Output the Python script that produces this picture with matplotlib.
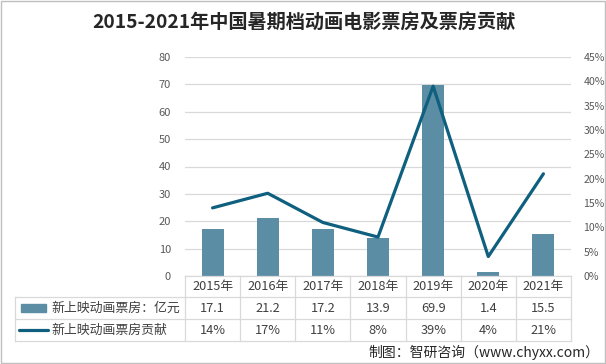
import matplotlib
matplotlib.use("Agg")
import matplotlib.pyplot as plt
import matplotlib.transforms as mtransforms
from matplotlib.patches import Rectangle
from matplotlib.lines import Line2D

plt.rcParams['font.family'] = ['Noto Sans CJK SC', 'DejaVu Sans']

years = ['2015年', '2016年', '2017年', '2018年', '2019年', '2020年', '2021年']
box_office = [17.1, 21.2, 17.2, 13.9, 69.9, 1.4, 15.5]
share = [14, 17, 11, 8, 39, 4, 21]
bar_label = '新上映动画票房：亿元'
line_label = '新上映动画票房贡献'

W, H = 606, 364
bar_color = '#5B8EA5'
line_color = '#0F5F7F'
grid_color = '#D9D9D9'
tick_color = '#595959'
text_color = '#404040'

fig = plt.figure(figsize=(W / 100, H / 100), dpi=100)

def fx(px):
    return px / W

def fy(py):
    return 1 - py / H

# plot area
x0, x1, ytop, ybot = 185, 571, 57, 276
ax = fig.add_axes([fx(x0), fy(ybot), fx(x1) - fx(x0), fy(ytop) - fy(ybot)])
xs = list(range(len(years)))
ax.bar(xs, box_office, width=0.4, color=bar_color, zorder=2)
ax.set_xlim(-0.5, len(years) - 0.5)
ax.set_ylim(0, 80)
ax.set_yticks(range(0, 81, 10))
ax.grid(axis='y', color=grid_color, linewidth=0.9, zorder=0)
ax.set_xticks([])
for s in ax.spines.values():
    s.set_visible(False)
ax.tick_params(axis='y', length=0, pad=10, labelsize=8, labelcolor=tick_color)

ax2 = ax.twinx()
ax2.plot(xs, share, color=line_color, linewidth=2.3, solid_capstyle='round', zorder=3)
ax2.set_ylim(0, 45)
ax2.set_yticks(range(0, 46, 5))
ax2.set_yticklabels([f'{v}%' for v in range(0, 46, 5)])
for s in ax2.spines.values():
    s.set_visible(False)
ax2.tick_params(axis='y', length=0, pad=9, labelsize=7.6, labelcolor=tick_color)

# data table under the plot
rows = [276, 297, 319, 341]
tx = mtransforms.blended_transform_factory(ax.transData, fig.transFigure)
lw = 0.9
fig.add_artist(Line2D([fx(x0), fx(x1)], [fy(rows[0])] * 2, color=grid_color, lw=lw))
for r in rows[1:]:
    fig.add_artist(Line2D([fx(15), fx(x1)], [fy(r)] * 2, color=grid_color, lw=lw))
for i in range(len(years) + 1):
    fig.add_artist(Line2D([ax.transData.transform((i - 0.5, 0))[0] / fig.bbox.width] * 2,
                          [fy(rows[0]), fy(rows[3])], color=grid_color, lw=lw))
fig.add_artist(Line2D([fx(15)] * 2, [fy(rows[1]), fy(rows[3])], color=grid_color, lw=lw))

for i, yr in enumerate(years):
    fig.text(i, fy((rows[0] + rows[1]) / 2), yr, transform=tx, ha='center', va='center',
             fontsize=9.2, color=text_color)
    fig.text(i, fy((rows[1] + rows[2]) / 2), f'{box_office[i]}', transform=tx, ha='center',
             va='center', fontsize=9.2, color=text_color)
    fig.text(i, fy((rows[2] + rows[3]) / 2), f'{share[i]}%', transform=tx, ha='center',
             va='center', fontsize=9.2, color=text_color)

fig.add_artist(Rectangle((fx(21), fy(312)), fx(25), fy(304) - fy(312), color=bar_color,
                         transform=fig.transFigure))
fig.add_artist(Line2D([fx(19), fx(48)], [fy(330)] * 2, color=line_color, lw=2.3,
                      solid_capstyle='round'))
fig.text(fx(51), fy(308), bar_label, ha='left', va='center', fontsize=9.3, color=text_color)
fig.text(fx(51), fy(330), line_label, ha='left', va='center', fontsize=9.3, color=text_color)

fig.text(fx(304), fy(22), '2015-2021年中国暑期档动画电影票房及票房贡献', ha='center', va='center',
         fontsize=13.8, fontweight='bold', color='#262626')
fig.text(fx(599), fy(352), '制图：智研咨询（www.chyxx.com）', ha='right', va='center',
         fontsize=10, color='#262626')

fig.add_artist(Rectangle((0.001, 0.002), 0.997, 0.995, fill=False, edgecolor='#BFBFBF',
                         lw=1, transform=fig.transFigure))

fig.savefig('out.png', dpi=100)
